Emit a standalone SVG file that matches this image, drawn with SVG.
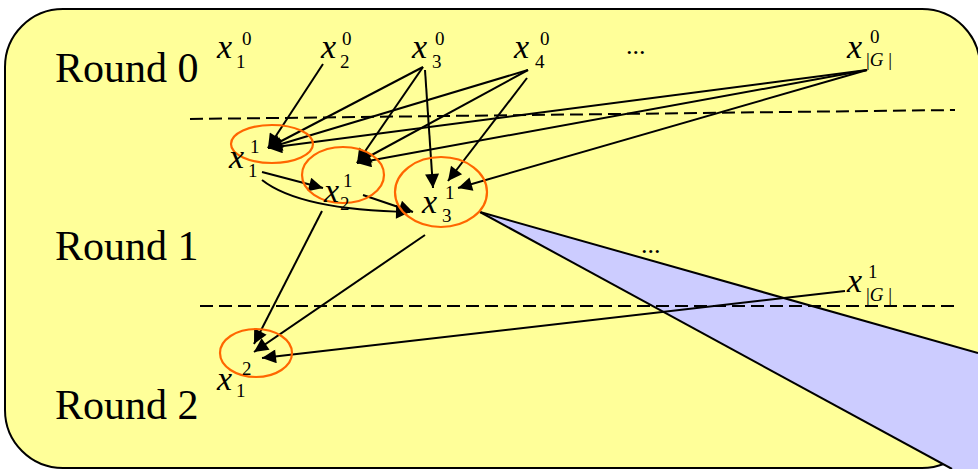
<svg xmlns="http://www.w3.org/2000/svg" width="978" height="469" viewBox="0 0 978 469">
<defs>
<marker id="ahb" viewBox="0 0 10 10" refX="10" refY="5" markerWidth="19" markerHeight="14" markerUnits="userSpaceOnUse" orient="auto">
<path d="M0,0 L10,5 L0,10 Z" fill="#000"/>
</marker>
</defs>
<style>
.round{font-family:"Liberation Serif","Times New Roman",serif;font-size:42px;fill:#000}
.v{font-family:"Liberation Serif","Times New Roman",serif;font-style:italic;font-size:34px;fill:#000}
.s{font-family:"Liberation Serif","Times New Roman",serif;font-size:19px;fill:#000}
.dots{font-family:"Liberation Serif","Times New Roman",serif;font-size:26px;fill:#000}
.ell{fill:none;stroke:#FF6600;stroke-width:2.2}
.dash{stroke:#000;stroke-width:2;stroke-dasharray:13 6;fill:none}
.arr{stroke:#000;stroke-width:2;fill:none;marker-end:url(#ahb)}
</style>
<rect id="panel" x="5" y="9" width="975" height="459" rx="58" ry="58" fill="#FFFF99" stroke="#000" stroke-width="2"/>
<g id="zoomwedge">
<polygon points="480,212 978,353 978,469 952,469" fill="#CCCCFF"/>
<line x1="480" y1="212" x2="978" y2="353" stroke="#000" stroke-width="2"/>
<line x1="480" y1="212" x2="952" y2="469" stroke="#000" stroke-width="2"/>
</g>
<g id="separators">
<line class="dash" x1="190" y1="119" x2="955" y2="110"/>
<line class="dash" x1="200" y1="306" x2="958" y2="306"/>
</g>
<g id="labels">
<text class="round" x="55" y="82">Round 0</text>
<text class="round" x="55" y="260">Round 1</text>
<text class="round" x="55" y="419">Round 2</text>
</g>
<g id="connectors">
<line class="arr" x1="323" y1="64" x2="268" y2="148"/>
<line class="arr" x1="423" y1="67" x2="268" y2="148"/>
<line class="arr" x1="423" y1="67" x2="357" y2="163"/>
<line class="arr" x1="425" y1="70" x2="433" y2="188"/>
<line class="arr" x1="528" y1="70" x2="268" y2="148"/>
<line class="arr" x1="528" y1="70" x2="357" y2="163"/>
<line class="arr" x1="527" y1="78" x2="448" y2="181"/>
<line class="arr" x1="867" y1="70" x2="268" y2="148"/>
<line class="arr" x1="867" y1="70" x2="357" y2="163"/>
<line class="arr" x1="867" y1="70" x2="458" y2="188"/>
<line class="arr" x1="262" y1="172" x2="323" y2="188"/>
<path class="arr" d="M262,180 Q300,210 410,212"/>
<line class="arr" x1="363" y1="195" x2="413" y2="212"/>
<line class="arr" x1="322" y1="211" x2="254" y2="344"/>
<line class="arr" x1="425" y1="235" x2="254" y2="352"/>
<line class="arr" x1="845" y1="291" x2="262" y2="358"/>
</g>
<g id="n-x1-0"><text class="v" x="217" y="58">x</text><text class="s" x="242" y="45">0</text><text class="s" x="236" y="68">1</text></g>
<g id="n-x2-0"><text class="v" x="321" y="58">x</text><text class="s" x="342" y="45">0</text><text class="s" x="340" y="68">2</text></g>
<g id="n-x3-0"><text class="v" x="412" y="58">x</text><text class="s" x="435" y="45">0</text><text class="s" x="432" y="68">3</text></g>
<g id="n-x4-0"><text class="v" x="514" y="58">x</text><text class="s" x="540" y="45">0</text><text class="s" x="535" y="68">4</text></g>
<g id="n-dots-0"><text class="dots" x="626" y="54">...</text></g>
<g id="n-xG-0"><text class="v" x="847" y="58">x</text><text class="s" x="870" y="43">0</text><text class="s" x="866" y="66">|<tspan font-style="italic">G</tspan> |</text></g>
<g id="n-x1-1"><ellipse class="ell" cx="272" cy="144" rx="41" ry="19"/><text class="v" x="229" y="168">x</text><text class="s" x="250" y="153">1</text><text class="s" x="248" y="177">1</text></g>
<g id="n-x2-1"><ellipse class="ell" cx="343" cy="175" rx="41" ry="28"/><text class="v" x="324" y="202">x</text><text class="s" x="343" y="187">1</text><text class="s" x="340" y="210">2</text></g>
<g id="n-x3-1"><ellipse class="ell" cx="441" cy="192" rx="46" ry="35"/><text class="v" x="422" y="213">x</text><text class="s" x="445" y="199">1</text><text class="s" x="442" y="222">3</text></g>
<g id="n-dots-1"><text class="dots" x="641" y="253">...</text></g>
<g id="n-xG-1"><text class="v" x="847" y="292">x</text><text class="s" x="868" y="278">1</text><text class="s" x="866" y="301">|<tspan font-style="italic">G</tspan> |</text></g>
<g id="n-x1-2"><ellipse class="ell" cx="256" cy="353" rx="36" ry="24"/><text class="v" x="217" y="390">x</text><text class="s" x="242" y="375">2</text><text class="s" x="236" y="397">1</text></g>
</svg>
